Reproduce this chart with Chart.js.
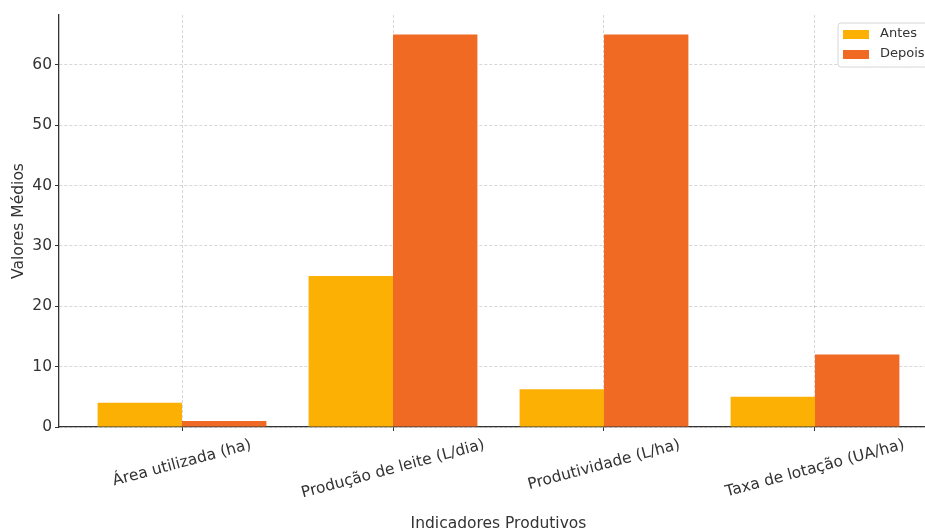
<!DOCTYPE html>
<html lang="pt">
<head>
<meta charset="utf-8">
<title>Indicadores Produtivos</title>
<script src="https://cdn.jsdelivr.net/npm/chart.js@4.4.0/dist/chart.umd.min.js"></script>
<style>
  html, body { margin: 0; padding: 0; background: #fff; overflow: hidden; }
  #wrap { width: 938px; height: 540px; }
</style>
</head>
<body>
<div id="wrap"><canvas id="chart" width="938" height="540"></canvas></div>
<script>
const categories = ["Área utilizada (ha)", "Produção de leite (L/dia)", "Produtividade (L/ha)", "Taxa de lotação (UA/ha)"];
const antes = [4, 25, 6.25, 5];
const depois = [1, 65, 65, 12];
const yTicks = [0, 10, 20, 30, 40, 50, 60];

const FONT = '"DejaVu Sans", sans-serif';
const TEXT = '#333';
const GRID = 'rgba(0,0,0,0.2)';

// rotated category labels, centred on the tick like matplotlib does
const xLabels = {
    id: 'xLabels',
    afterDraw(chart) {
        const { ctx, scales: { x } } = chart;
        const ang = 15 * Math.PI / 180;
        ctx.save();
        ctx.font = '15.5px ' + FONT;
        ctx.fillStyle = TEXT;
        ctx.textAlign = 'center';
        ctx.textBaseline = 'middle';
        categories.forEach((lab, i) => {
            const w = ctx.measureText(lab).width;
            const boxH = w * Math.sin(ang) + 18 * Math.cos(ang);
            const px = x.getPixelForValue(i);
            ctx.save();
            ctx.translate(px, x.top + 9 + boxH / 2);
            ctx.rotate(-ang);
            ctx.fillText(lab, 0, 0);
            ctx.restore();
        });
        ctx.restore();
    }
};

// legend box in the upper right corner of the plot
const legendBox = {
    id: 'legendBox',
    afterDraw(chart) {
        const { ctx, chartArea } = chart;
        const x0 = chartArea.right - 100, y0 = chartArea.top + 8;
        ctx.save();
        ctx.beginPath();
        if (ctx.roundRect) ctx.roundRect(x0, y0, 94, 44, 3); else ctx.rect(x0, y0, 94, 44);
        ctx.fillStyle = 'rgba(255,255,255,0.9)';
        ctx.fill();
        ctx.strokeStyle = '#d6d6d6';
        ctx.lineWidth = 1;
        ctx.stroke();
        ctx.font = '13px ' + FONT;
        ctx.textBaseline = 'middle';
        chart.data.datasets.forEach((ds, i) => {
            const cy = y0 + 11 + i * 20;
            ctx.fillStyle = ds.backgroundColor;
            ctx.fillRect(x0 + 5, cy - 4, 26, 9);
            ctx.fillStyle = TEXT;
            ctx.fillText(ds.label, x0 + 42, cy);
        });
        ctx.restore();
    }
};

new Chart(document.getElementById('chart'), {
    type: 'bar',
    data: {
        datasets: [
            { label: 'Antes', data: antes.map((v, i) => ({ x: i, y: v })), backgroundColor: '#FDB004' },
            { label: 'Depois', data: depois.map((v, i) => ({ x: i, y: v })), backgroundColor: '#F06A24' }
        ]
    },
    options: {
        responsive: false,
        animation: false,
        devicePixelRatio: 1,
        layout: { padding: { top: 15, left: 0, right: 0, bottom: 0 } },
        categoryPercentage: 0.8,
        barPercentage: 1,
        plugins: { legend: { display: false }, tooltip: { enabled: false } },
        scales: {
            x: {
                type: 'linear',
                min: -0.583, max: 3.583,
                offset: false,
                afterBuildTicks: s => { s.ticks = categories.map((c, i) => ({ value: i })); },
                afterFit: s => { s.height = 113; },
                ticks: { display: false },
                grid: { offset: false, color: GRID, lineWidth: 0.8, drawTicks: true, tickLength: 4, tickColor: TEXT, tickWidth: 1 },
                border: { display: true, color: TEXT, width: 1.3, dash: [3, 2] },
                title: { display: true, text: 'Indicadores Produtivos', color: TEXT, font: { family: FONT, size: 15.5 }, padding: { top: 0, bottom: 7 } }
            },
            y: {
                min: 0, max: 68.25,
                afterBuildTicks: s => { s.ticks = yTicks.map(v => ({ value: v })); },
                afterFit: s => { s.width = 59; },
                ticks: { color: TEXT, font: { family: FONT, size: 15.5 }, padding: 3 },
                grid: { color: GRID, lineWidth: 0.8, drawTicks: true, tickLength: 4, tickColor: TEXT, tickWidth: 1 },
                border: { display: true, color: TEXT, width: 1.3, dash: [3, 2] },
                title: { display: true, text: 'Valores Médios', color: TEXT, font: { family: FONT, size: 15.5 }, padding: { top: 10, bottom: 0 } }
            }
        }
    },
    plugins: [xLabels, legendBox]
});
</script>
</body>
</html>
